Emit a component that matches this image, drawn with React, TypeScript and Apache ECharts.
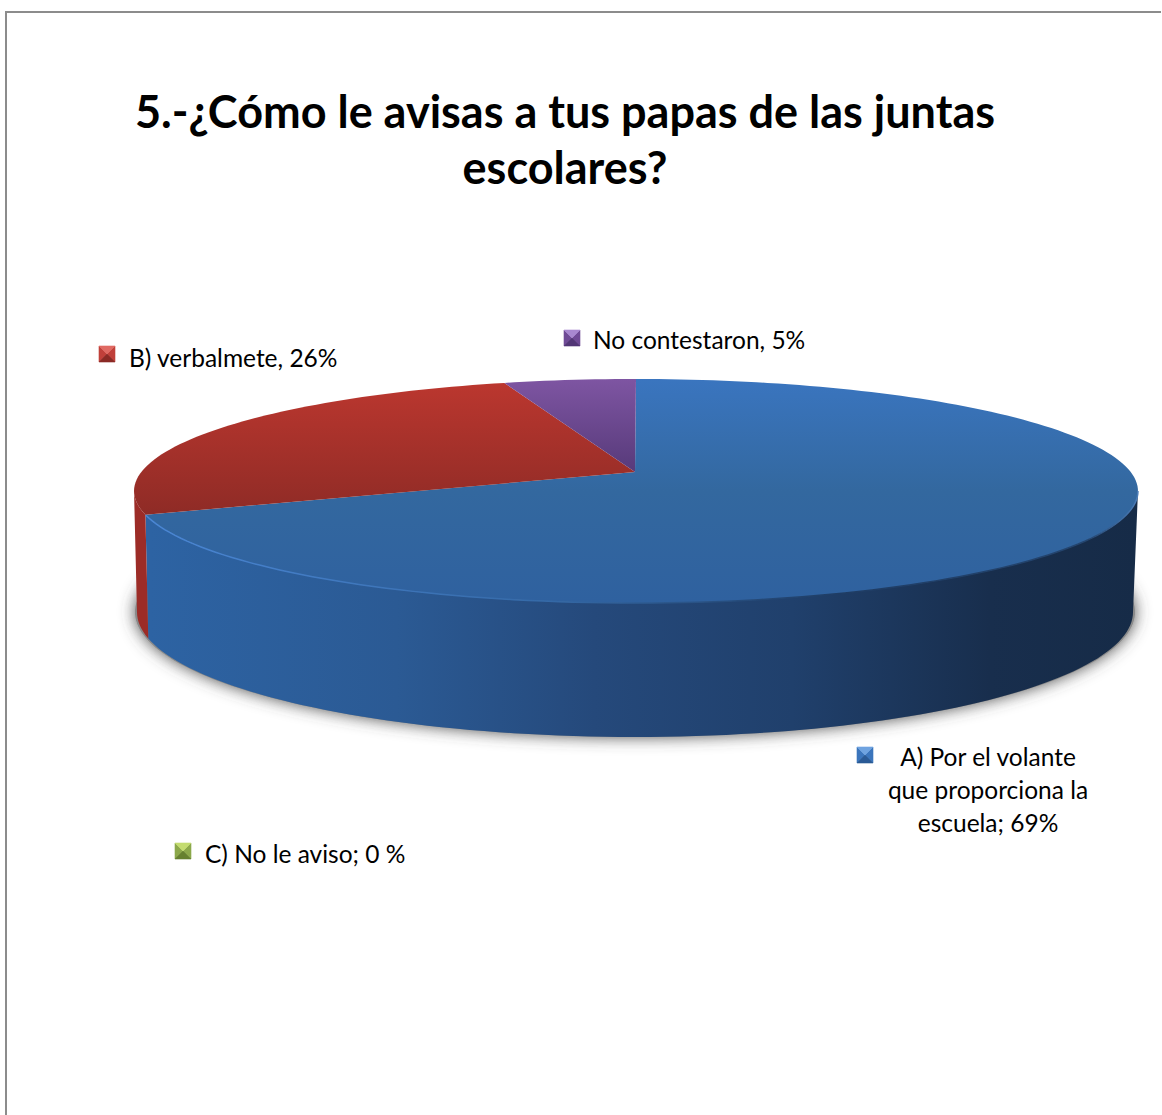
import React, { useEffect, useRef } from "react";
import * as echarts from "echarts";

const categories = ["A) Por el volante que proporciona la escuela", "B) verbalmete", "C) No le aviso", "No contestaron"];
const values = [69, 26, 0, 5];
const titleLines = ["5.-¿Cómo le avisas a tus papas de las juntas", "escolares?"];

const TOP = { cx: 636, cy: 472, bx: 494.7, a: 108.8 };
const BOT = { cx: 635, cy: 590.8, bx: 490.8, a: 121.4 };
const K = 0.1696;
const FRONT_START = Math.acos(-K) / (2 * Math.PI);
const FRONT_END = 1 - FRONT_START;

const project = (g: typeof TOP, frac: number) => {
  const t = frac * Math.PI * 2;
  const x = Math.sin(t), y = -Math.cos(t);
  const d = 1 - K * y;
  return [g.cx + (g.bx * x) / d, g.cy + (g.a * y) / d];
};

const total = values.reduce((s, v) => s + v, 0);
const fracRange = (i: number) => {
  let s = 0;
  for (let j = 0; j < i; j++) s += values[j];
  return [s / total, (s + values[i]) / total];
};
const arc = (g: typeof TOP, f0: number, f1: number) => {
  const n = Math.max(2, Math.ceil((f1 - f0) * 240));
  const pts: number[][] = [];
  for (let i = 0; i <= n; i++) pts.push(project(g, f0 + ((f1 - f0) * i) / n));
  return pts;
};
const grad = (x: number, y: number, x2: number, y2: number, stops: [number, string][]) => ({
  type: "linear", x, y, x2, y2, global: true,
  colorStops: stops.map(([offset, color]) => ({ offset, color })),
});

const topFill = [
  grad(0, 379, 0, 603, [[0, "#3A75BF"], [0.5, "#33689F"], [1, "#2F619F"]]),
  grad(0, 380, 0, 525, [[0, "#BC372F"], [1, "#8B2A25"]]),
  "#8CA84A",
  grad(0, 379, 0, 472, [[0, "#7E55A2"], [1, "#573A7A"]]),
];
const wallFill = [
  grad(150, 0, 1138, 0, [[0, "#2D63A3"], [0.25, "#2B5A94"], [0.45, "#25497B"], [0.65, "#20406C"], [0.85, "#182E4D"], [1, "#162B47"]]),
  "#9C2C27", "#8CA84A", "#5A3C7C",
];

const markers = [
  { x: 857, y: 747, light: "#6FA3E0", mid: "#3B75BC", dark: "#2A5A96" },
  { x: 99, y: 346, light: "#E06A63", mid: "#C0403A", dark: "#8B2A25" },
  { x: 175, y: 843, light: "#C4DC70", mid: "#8CA84A", dark: "#66802F" },
  { x: 564, y: 330, light: "#A888D0", mid: "#6F4A96", dark: "#523676" },
];
const S = 16;
const tri = (points: number[][], fill: string) => ({
  type: "polygon", shape: { points }, style: { fill, stroke: fill, lineWidth: 0.6 },
});
const markerShapes = markers.flatMap((m) => {
  const c = [m.x + S / 2, m.y + S / 2];
  const a = [m.x, m.y], b = [m.x + S, m.y], d = [m.x + S, m.y + S], e = [m.x, m.y + S];
  return [tri([a, c, e], m.mid), tri([b, d, c], m.mid), tri([a, b, c], m.light), tri([e, d, c], m.dark)];
});

const LABEL_FONT = "Lato";
const text = (t: string, x: number, y: number, align = "left") => ({
  type: "text", x, y,
  style: { text: t, fill: "#000", font: `24.5px ${LABEL_FONT}`, textAlign: align, textVerticalAlign: "middle" },
});
const labels = [
  text("A) Por el volante", 988, 756, "center"),
  text("que proporciona la", 988, 789, "center"),
  text("escuela; 69%", 988, 822, "center"),
  text("B) verbalmete, 26%", 129, 357),
  text("C) No le aviso; 0 %", 205, 853),
  text("No contestaron, 5%", 593, 339),
];

export default function App() {
  const ref = useRef<HTMLDivElement>(null);
  useEffect(() => {
    document.body.style.margin = "0";
    const chart = echarts.init(ref.current!, undefined, { renderer: "svg" });
    chart.setOption({
      animation: false,
      backgroundColor: "#fff",
      title: {
        text: titleLines.join("\n"),
        left: 560, top: 78, textAlign: "center",
        textStyle: { fontFamily: "Lato", fontWeight: "bold", fontSize: 45, lineHeight: 56, color: "#000" },
      },
      graphic: [
        { type: "polyline", shape: { points: [[6, 1115], [6, 12], [1161, 12]] }, style: { stroke: "#8c8c8c", lineWidth: 2, fill: "none" } },
        ...markerShapes,
        ...labels,
      ],
      series: [
        {
          type: "custom", coordinateSystem: "none", z: 1, data: [1],
          renderItem: () => ({
            type: "polygon",
            shape: { points: arc({ ...BOT, bx: BOT.bx + 2 }, 0, 1) },
            style: { fill: "#8a8a8a", shadowBlur: 16, shadowColor: "rgba(70,70,70,0.95)" },
          }),
        },
        {
          type: "custom", coordinateSystem: "none", z: 2, data: values,
          renderItem: (p: any) => {
            const [f0, f1] = fracRange(p.dataIndex);
            const a0 = Math.max(f0, FRONT_START), a1 = Math.min(f1, FRONT_END);
            if (a1 <= a0) return null;
            const pts = [...arc(TOP, a0, a1), ...arc(BOT, a0, a1).reverse()];
            return { type: "polygon", shape: { points: pts }, style: { fill: wallFill[p.dataIndex] } };
          },
        },
        {
          type: "custom", coordinateSystem: "none", z: 3, data: values,
          renderItem: (p: any) => {
            const [f0, f1] = fracRange(p.dataIndex);
            if (f1 <= f0) return null;
            const pts = [[TOP.cx - 1, TOP.cy], ...arc(TOP, f0, f1)];
            const children: any[] = [{ type: "polygon", shape: { points: pts }, style: { fill: topFill[p.dataIndex] } }];
            if (p.dataIndex === 0) {
              children.push({
                type: "polyline",
                shape: { points: arc(TOP, FRONT_START, f1) },
                style: {
                  fill: "none", lineWidth: 1.5,
                  stroke: grad(150, 0, 1138, 0, [[0, "#4A86D4"], [0.4, "#356AA8"], [0.7, "#1E3C64"], [0.95, "#24456F"], [1, "#4A7CB8"]]),
                },
              });
            }
            return { type: "group", children };
          },
        },
      ],
    });
    return () => chart.dispose();
  }, []);
  return <div ref={ref} style={{ width: 1162, height: 1115 }} />;
}
